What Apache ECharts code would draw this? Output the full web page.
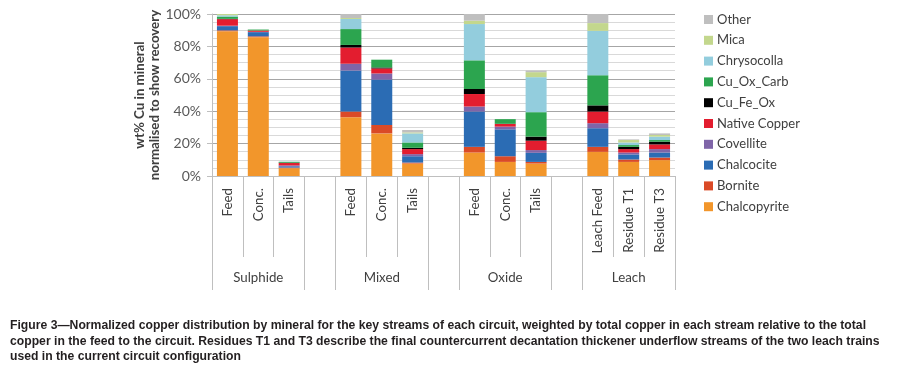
<!DOCTYPE html>
<html><head><meta charset="utf-8">
<script src="https://cdn.jsdelivr.net/npm/echarts@6/dist/echarts.min.js"></script>
<style>html,body{margin:0;padding:0;background:#fff}#c{width:897px;height:373px}</style>
</head><body><div id="c"></div>
<script>
const categories = ['Feed','Conc.','Tails','','Feed','Conc.','Tails','','Feed','Conc.','Tails','','Leach Feed','Residue T1','Residue T3'];
const groupLabels = ['','Sulphide','','','','Mixed','','','','Oxide','','','','Leach',''];
const groupBoundaryIdx = [0,3,4,7,8,11,12];
const yTicks = [0,20,40,60,80,100];

const chalcopyrite = [89.4, 85.7, 4.8, null, 36.3, 26.3, 7.7, null, 14.5, 8.7, 7.7, null, 14.9, 8.7, 9.8];
const bornite      = [0.5, 0.5, 0.4, null, 3.5, 5.2, 0.6, null, 3.5, 3.5, 1.0, null, 3.1, 1.5, 1.6];
const chalcocite   = [2.6, 2.6, 0.8, null, 25.3, 28.0, 3.9, null, 21.8, 16.6, 5.6, null, 11.5, 3.1, 3.1];
const covellite    = [0.3, 0.2, 0.5, null, 4.2, 3.8, 1.3, null, 3.1, 1.7, 1.7, null, 3.1, 1.2, 2.1];
const nativeCopper = [4.0, 0.8, 1.5, null, 10.0, 3.1, 3.1, null, 7.7, 1.7, 5.8, null, 7.2, 2.1, 2.9];
const cuFeOx       = [0.2, 0, 0.2, null, 1.6, 0.6, 0.8, null, 3.1, 0, 2.5, null, 3.8, 1.4, 1.7];
const cuOxCarb     = [1.4, 0.6, 0.5, null, 9.8, 4.8, 3.3, null, 17.7, 2.9, 15.1, null, 18.6, 1.1, 1.0];
const chrysocolla  = [0.8, 0, 0.2, null, 6.2, 0, 5.6, null, 22.4, 0, 21.6, null, 27.4, 1.6, 2.1];
const mica         = [0.8, 0, 0.1, null, 0.6, 0, 0.6, null, 2.1, 0, 3.1, null, 4.8, 1.5, 1.0];
const other        = [0, 0, 0, null, 2.5, 0, 1.5, null, 4.1, 0, 1.0, null, 5.6, 0.4, 1.0];

const seriesNames = ['Chalcopyrite','Bornite','Chalcocite','Covellite','Native Copper','Cu_Fe_Ox','Cu_Ox_Carb','Chrysocolla','Mica','Other'];
const seriesData = [chalcopyrite,bornite,chalcocite,covellite,nativeCopper,cuFeOx,cuOxCarb,chrysocolla,mica,other];
const colors = ['#F2962B','#DA4A27','#2B6CB4','#7F65A8','#E31D2F','#000000','#2CA54F','#93CDDD','#C3D78D','#BFBFBF'];

const captionLines = [
 'Figure 3\u2014Normalized copper distribution by mineral for the key streams of each circuit, weighted by total copper in each stream relative to the total',
 'copper in the feed to the circuit. Residues T1 and T3 describe the final countercurrent decantation thickener underflow streams of the two leach trains',
 'used in the current circuit configuration'
];

const font = 'Lato';
const chart = echarts.init(document.getElementById('c'), null, {renderer:'canvas'});
chart.setOption({
  animation:false,
  color: colors,
  grid:{left:212, right:222, top:14, bottom:197, containLabel:false},
  legend:{
    data: seriesNames.slice().reverse(),
    orient:'vertical', left:699, top:8,
    itemWidth:9, itemHeight:9, itemGap:7.8, icon:'rect',
    textStyle:{fontFamily:font, fontSize:13, color:'#404040', padding:[0,0,0,-1]}
  },
  xAxis:[{
    type:'category', data:categories, position:'bottom',
    axisLine:{show:true, lineStyle:{color:'#BFBFBF', width:1}},
    axisTick:{show:true, length:81, lineStyle:{color:'#BFBFBF'}},
    axisLabel:{rotate:90, interval:0, margin:12, fontFamily:font, fontSize:13.3, color:'#404040'}
  },{
    type:'category', data:groupLabels, position:'bottom', offset:81,
    axisLine:{show:false},
    axisTick:{show:true, length:33, lineStyle:{color:'#BFBFBF'},
      interval:function(idx){ return groupBoundaryIdx.indexOf(idx) >= 0; }},
    axisLabel:{interval:0, margin:14, fontFamily:font, fontSize:13.3, color:'#404040'}
  }],
  yAxis:{
    type:'value', min:yTicks[0], max:yTicks[yTicks.length-1], interval:20,
    name:'wt% Cu in mineral\nnormalised to show recovery',
    nameLocation:'middle', nameGap:50, nameRotate:90, nameMoveOverlap:false,
    nameTextStyle:{fontFamily:font, fontSize:13.3, fontWeight:'bold', color:'#404040', lineHeight:15},
    axisLine:{show:true, lineStyle:{color:'#BFBFBF'}},
    axisTick:{show:true, length:5, lineStyle:{color:'#BFBFBF'}},
    axisLabel:{formatter:'{value}%', margin:11, fontFamily:font, fontSize:14, color:'#595959'},
    splitLine:{show:true, lineStyle:{color:'#A6A6A6', width:1}},
    minorTick:{show:false, splitNumber:4},
    minorSplitLine:{show:true, lineStyle:{color:'#D9D9D9', width:1}}
  },
  series: seriesNames.map((n,i)=>({
    name:n, type:'bar', stack:'cu', data:seriesData[i], xAxisIndex:0,
    barCategoryGap:'32%', itemStyle:{color:colors[i]}
  })),
  graphic: captionLines.map((t,i)=>({
    type:'text', left:10, top:320 + i*15.5,
    style:{text:t, fontFamily:'Liberation Sans', fontWeight:'bold', fontSize:12.2, fill:'#231F20'}
  }))
});
</script></body></html>
